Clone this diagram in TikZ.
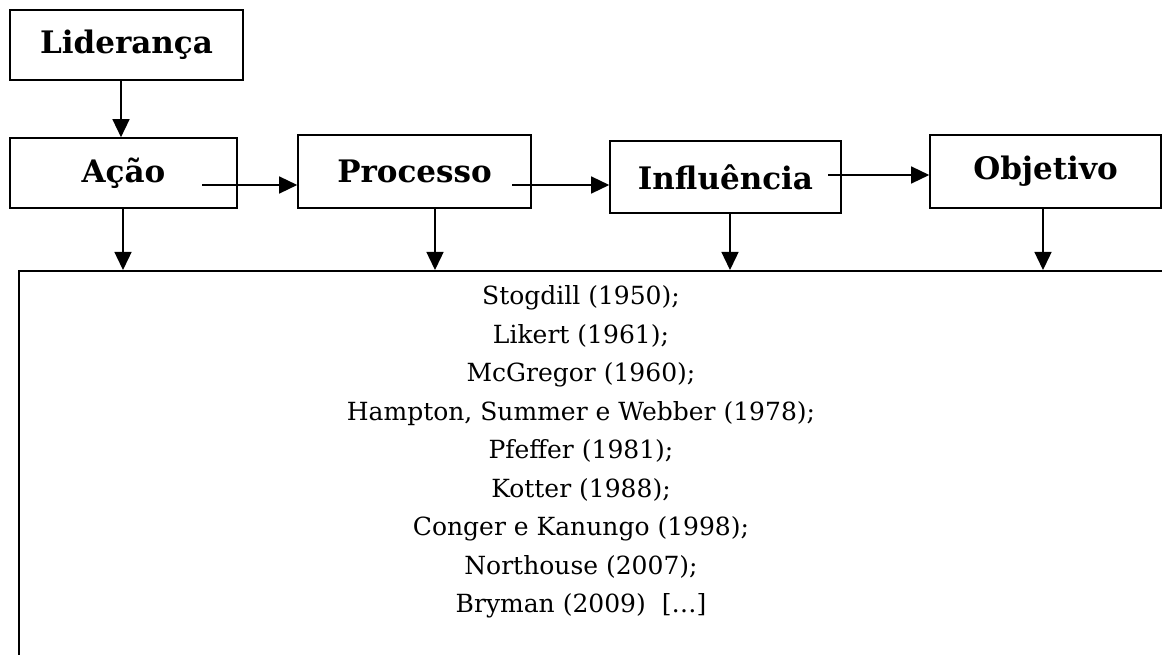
\documentclass[tikz,border=0pt]{standalone}
\usepackage{fontspec}
\setmainfont{DejaVu Serif}
\usetikzlibrary{arrows.meta}
\begin{document}
\begin{tikzpicture}[x=1pt,y=-1pt,
  box/.style={draw, line width=1.6pt, inner sep=0pt, font=\fontsize{31}{36}\selectfont\bfseries},
  arr/.style={line width=1.4pt, -{Triangle[length=18pt,width=17pt]}},
  reftext/.style={align=center, inner sep=0pt, font=\fontsize{25}{38.5}\selectfont}]
\useasboundingbox (0,0) rectangle (1162,655);
\clip (0,0) rectangle (1162,655);
\node[box, minimum width=233, minimum height=70] (lid) at (126.5,45) {Liderança};
\node[box, minimum width=227, minimum height=70] (acao) at (123.5,173) {Ação};
\node[box, minimum width=233, minimum height=73] (proc) at (414.5,171.5) {Processo};
\node[box, minimum width=231, minimum height=72] (infl) at (725.5,177) {Influência};
\node[box, minimum width=231, minimum height=73] (obj) at (1045.5,171.5) {Objetivo};
\node[draw, line width=1.6pt, minimum width=1160, minimum height=430, inner sep=0pt, anchor=north west] (refs) at (18,270) {};
\node[reftext] (reflist) at (581,452) {Stogdill (1950);\\ Likert (1961);\\ McGregor (1960);\\ Hampton, Summer e Webber (1978);\\ Pfeffer (1981);\\ Kotter (1988);\\ Conger e Kanungo (1998);\\ Northouse (2007);\\ Bryman (2009)\ \ […]};
% vertical arrows
\draw[arr] ([xshift=-5.5pt]lid.south) -- ([xshift=-5.5pt]lid.south |- acao.north);
\draw[arr] ([xshift=-0.5pt]acao.south) -- ([xshift=-0.5pt]acao.south |- refs.north);
\draw[arr] ([xshift=20.5pt]proc.south) -- ([xshift=20.5pt]proc.south |- refs.north);
\draw[arr] ([xshift=4.5pt]infl.south) -- ([xshift=4.5pt]infl.south |- refs.north);
\draw[arr] ([xshift=-2.5pt]obj.south) -- ([xshift=-2.5pt]obj.south |- refs.north);
% horizontal arrows
\coordinate (s1) at (202,185);
\coordinate (s2) at (512,185);
\coordinate (s3) at (828,175);
\draw[arr] (s1) -- (s1 -| proc.west);
\draw[arr] (s2) -- (s2 -| infl.west);
\draw[arr] (s3) -- (s3 -| obj.west);
\end{tikzpicture}
\end{document}
